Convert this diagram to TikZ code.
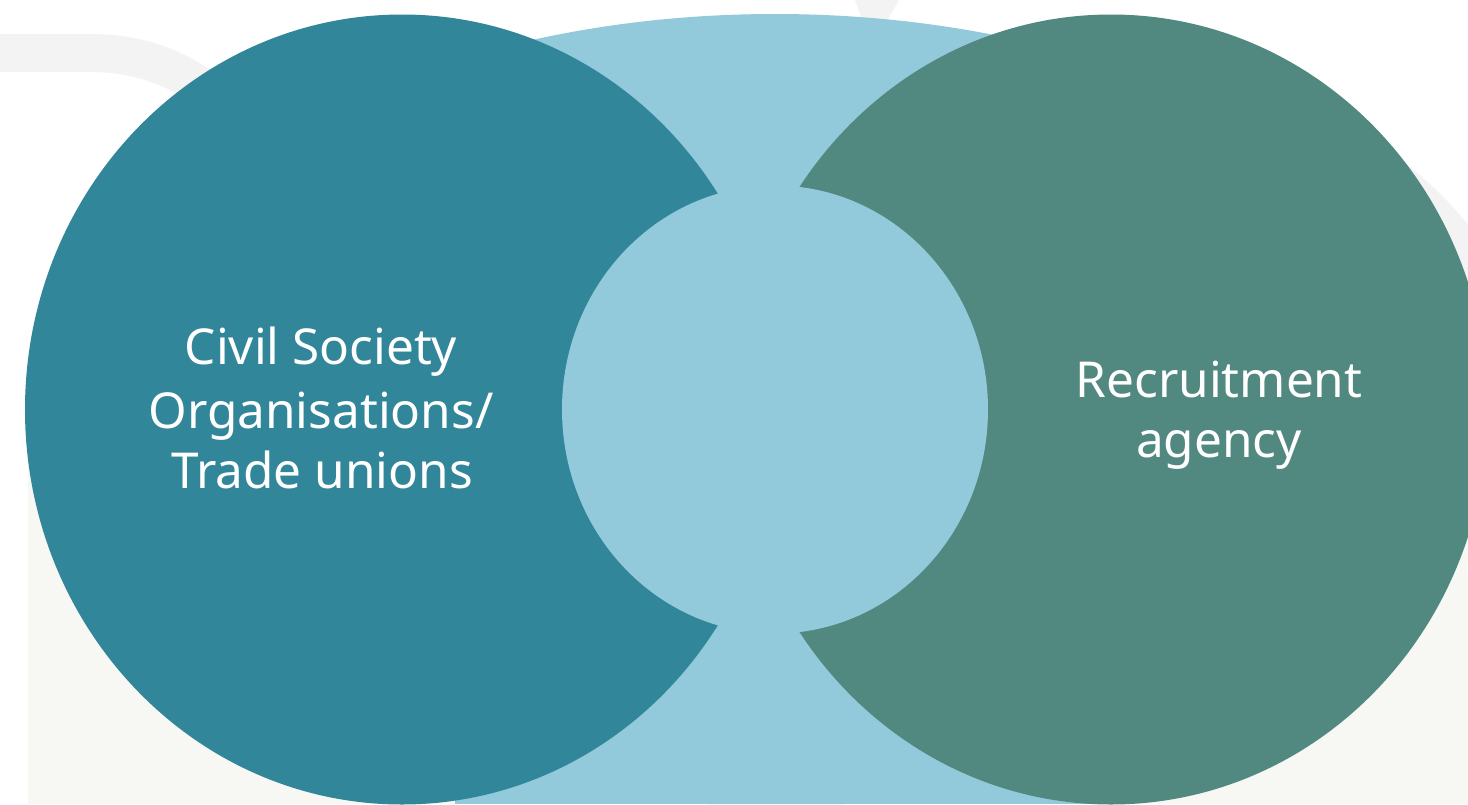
\documentclass[tikz,border=0pt]{standalone}
\usepackage{fontspec}
\setmainfont{Noto Sans}
\definecolor{cso}{HTML}{32869A}
\definecolor{agency}{HTML}{518980}
\definecolor{mid}{HTML}{93CADB}
\definecolor{offwhite}{HTML}{F7F8F4}
\definecolor{swoosh}{HTML}{F3F3F3}
\tikzset{
  lbl/.style={text=white, font=\fontsize{49.5}{61}\selectfont, anchor=base, inner sep=0pt},
  bigdisc/.style={x radius=377pt, y radius=395pt},
}
\begin{document}
\begin{tikzpicture}[x=1pt,y=-1pt]
\useasboundingbox (0,0) rectangle (1468,804);
\clip (0,0) rectangle (1468,804);
\fill[white] (0,0) rectangle (1468,804);
% off-white card
\fill[offwhite] (28,440) rectangle (1468,804);
% faint background swooshes
\draw[swoosh, line width=38pt] (-20,53) -- (90,53) .. controls (150,53) and (200,75) .. (250,130);
\draw[swoosh, line width=44pt] (1300,125) .. controls (1380,160) and (1450,220) .. (1500,310);
\fill[swoosh] (855,0) -- (899,0) -- (882,30) -- (866,30) -- cycle;
% light blue background shape
\begin{scope}
  \clip (455,804) -- (475,0) -- (1075,0) -- (1095,804) -- cycle;
  \fill[mid] (775,410) ellipse [x radius=680pt, y radius=396pt];
  \fill[mid] (0,410) rectangle (1468,804);
\end{scope}
% two main discs
\fill[cso] (402,409.5) ellipse [bigdisc];
\fill[agency] (1111,409.5) ellipse [bigdisc];
% central disc
\fill[mid] (775,409.5) ellipse [x radius=213pt, y radius=224pt];
% labels
\node[lbl] (csoA) at (321,364) {Civil Society};
\node[lbl] (csoB) at (321,428) {Organisations/};
\node[lbl] (csoC) at (322,488) {Trade unions};
\node[lbl] (agA) at (1219,397) {Recruitment};
\node[lbl] (agB) at (1219,457) {agency};
\end{tikzpicture}
\end{document}
